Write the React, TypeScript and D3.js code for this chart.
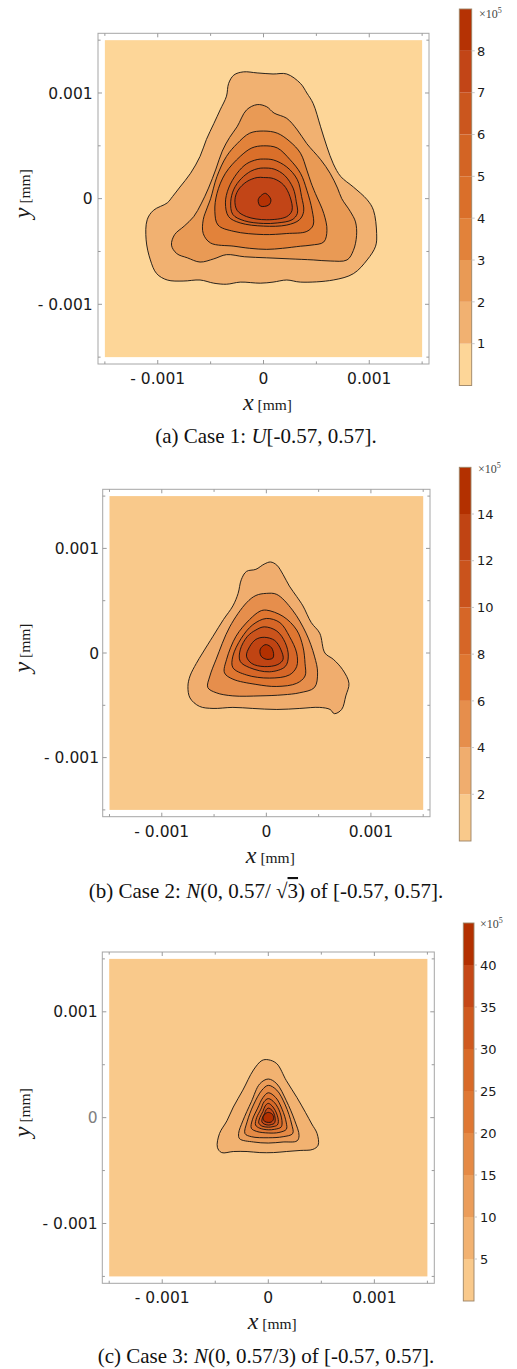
import React from "react";
import * as d3 from "d3";

type Pt = [number, number];

// ---------- shared axis data (units of 0.001 mm) ----------
const axisTicks = [-1, 0, 1];
const axisTickLabels = ["- 0.001", "0", "0.001"];
const minorTicks = [-1.5, -0.5, 0.5, 1.5];
const plotExtent = 1.5;
const frameExtent = 1.565;

// ---------- Case 1 ----------
const case1Levels = [1, 2, 3, 4, 5, 6, 7, 8];
const case1BarMax = 9;
const case1BarLabels = [1, 2, 3, 4, 5, 6, 7, 8];
const case1Contours: Pt[][] = [
  [[-0.06,1.19],[0.09,1.18],[0.22,1.18],[0.35,1.09],[0.41,1.0],[0.47,0.90],[0.54,0.68],[0.60,0.49],[0.66,0.33],[0.73,0.21],[0.85,0.11],[0.98,-0.01],[1.04,-0.11],[1.07,-0.33],[1.06,-0.45],[0.98,-0.58],[0.85,-0.71],[0.66,-0.77],[0.35,-0.79],[0.22,-0.77],[0.09,-0.79],[-0.03,-0.80],[-0.22,-0.79],[-0.35,-0.81],[-0.47,-0.80],[-0.60,-0.77],[-0.76,-0.78],[-0.91,-0.77],[-1.01,-0.71],[-1.07,-0.58],[-1.11,-0.39],[-1.10,-0.20],[-1.04,-0.11],[-0.91,-0.04],[-0.86,0.02],[-0.79,0.11],[-0.69,0.24],[-0.60,0.40],[-0.54,0.56],[-0.47,0.71],[-0.41,0.84],[-0.35,0.97],[-0.33,1.09],[-0.28,1.17],[-0.19,1.20]],
  [[-0.06,0.89],[0.03,0.87],[0.10,0.81],[0.22,0.76],[0.32,0.65],[0.41,0.52],[0.54,0.37],[0.63,0.24],[0.70,0.10],[0.74,0.0],[0.82,-0.12],[0.87,-0.22],[0.88,-0.35],[0.85,-0.49],[0.79,-0.58],[0.63,-0.59],[0.47,-0.58],[0.25,-0.57],[0.03,-0.56],[-0.18,-0.55],[-0.35,-0.53],[-0.47,-0.57],[-0.60,-0.60],[-0.72,-0.56],[-0.82,-0.52],[-0.87,-0.44],[-0.84,-0.34],[-0.75,-0.26],[-0.66,-0.17],[-0.59,-0.05],[-0.52,0.10],[-0.45,0.28],[-0.39,0.45],[-0.32,0.58],[-0.25,0.68],[-0.16,0.84]],
  [[0,0.64],[0.13,0.62],[0.25,0.54],[0.35,0.43],[0.41,0.27],[0.45,0.15],[0.49,0.05],[0.57,-0.14],[0.60,-0.30],[0.57,-0.41],[0.45,-0.44],[0.35,-0.45],[0.18,-0.47],[0.03,-0.48],[-0.13,-0.47],[-0.28,-0.45],[-0.50,-0.42],[-0.57,-0.33],[-0.57,-0.20],[-0.53,-0.08],[-0.50,0.0],[-0.44,0.21],[-0.35,0.40],[-0.25,0.52],[-0.13,0.62]],
  [[0,0.50],[0.13,0.48],[0.25,0.37],[0.35,0.24],[0.41,0.08],[0.46,-0.11],[0.47,-0.25],[0.41,-0.31],[0.22,-0.33],[0,-0.34],[-0.28,-0.31],[-0.43,-0.25],[-0.46,-0.12],[-0.44,0.05],[-0.36,0.24],[-0.22,0.40],[-0.11,0.48]],
  [[0,0.375],[0.095,0.366],[0.22,0.30],[0.32,0.18],[0.36,0.02],[0.38,-0.12],[0.34,-0.20],[0.22,-0.25],[0,-0.26],[-0.22,-0.23],[-0.33,-0.17],[-0.36,-0.04],[-0.33,0.10],[-0.25,0.24],[-0.16,0.33],[-0.06,0.37]],
  [[0,0.29],[0.10,0.28],[0.20,0.22],[0.28,0.10],[0.31,-0.03],[0.32,-0.14],[0.27,-0.20],[0.13,-0.23],[0,-0.235],[-0.18,-0.21],[-0.29,-0.15],[-0.31,-0.03],[-0.28,0.09],[-0.21,0.19],[-0.12,0.26],[-0.05,0.285]],
  [[0,0.20],[0.095,0.19],[0.19,0.13],[0.25,0.02],[0.27,-0.11],[0.22,-0.17],[0.03,-0.20],[-0.16,-0.17],[-0.25,-0.11],[-0.27,-0.01],[-0.24,0.08],[-0.16,0.16],[-0.06,0.20]],
  [[0.02,0.05],[0.07,-0.01],[0.05,-0.06],[-0.03,-0.07],[-0.05,-0.01],[-0.016,0.035]],
];

// ---------- Case 2 ----------
const case2Levels = [2, 4, 6, 8, 10, 12, 14];
const case2BarMax = 16;
const case2BarLabels = [2, 4, 6, 8, 10, 12, 14];
const case2Contours: Pt[][] = [
  [[0.04,0.87],[0.10,0.84],[0.16,0.75],[0.22,0.64],[0.29,0.54],[0.35,0.45],[0.43,0.29],[0.51,0.19],[0.56,0.0],[0.64,-0.06],[0.73,-0.16],[0.79,-0.29],[0.76,-0.41],[0.72,-0.54],[0.65,-0.58],[0.61,-0.54],[0.51,-0.52],[0.32,-0.53],[0.10,-0.54],[-0.13,-0.53],[-0.32,-0.52],[-0.51,-0.53],[-0.64,-0.51],[-0.73,-0.43],[-0.75,-0.32],[-0.73,-0.22],[-0.67,-0.10],[-0.61,0.0],[-0.51,0.16],[-0.41,0.32],[-0.32,0.45],[-0.27,0.57],[-0.24,0.70],[-0.19,0.78],[-0.10,0.80],[-0.02,0.85]],
  [[0,0.57],[0.10,0.56],[0.25,0.41],[0.38,0.19],[0.46,-0.03],[0.49,-0.19],[0.46,-0.33],[0.32,-0.38],[0.16,-0.40],[-0.06,-0.41],[-0.32,-0.41],[-0.48,-0.38],[-0.56,-0.33],[-0.54,-0.22],[-0.48,-0.06],[-0.35,0.25],[-0.19,0.48],[-0.10,0.55]],
  [[0,0.41],[0.16,0.35],[0.29,0.22],[0.35,0.06],[0.37,-0.10],[0.37,-0.22],[0.29,-0.29],[0.10,-0.32],[-0.10,-0.30],[-0.32,-0.25],[-0.40,-0.19],[-0.38,-0.06],[-0.29,0.16],[-0.16,0.32],[-0.06,0.40]],
  [[0,0.33],[0.13,0.29],[0.22,0.16],[0.29,0],[0.29,-0.13],[0.22,-0.21],[0.03,-0.24],[-0.19,-0.21],[-0.32,-0.14],[-0.32,-0.03],[-0.24,0.14],[-0.13,0.27]],
  [[-0.02,0.25],[0.10,0.21],[0.18,0.10],[0.21,-0.03],[0.18,-0.13],[0.03,-0.18],[-0.16,-0.14],[-0.25,-0.08],[-0.25,0.03],[-0.18,0.16],[-0.10,0.22]],
  [[-0.02,0.15],[0.08,0.12],[0.14,0.03],[0.16,-0.06],[0.11,-0.11],[-0.02,-0.13],[-0.14,-0.10],[-0.19,-0.03],[-0.16,0.06],[-0.10,0.13]],
  [[0,0.08],[0.05,0.05],[0.07,-0.02],[0.06,-0.05],[0,-0.06],[-0.05,-0.03],[-0.06,0.03],[-0.03,0.07]],
];

// ---------- Case 3 ----------
const case3Levels = [5, 10, 15, 20, 25, 30, 35, 40];
const case3BarMax = 45;
const case3BarLabels = [5, 10, 15, 20, 25, 30, 35, 40];
const case3Contours: Pt[][] = [
  [[0,0.547],[0.08,0.51],[0.17,0.35],[0.27,0.19],[0.35,0.05],[0.41,-0.06],[0.46,-0.15],[0.47,-0.26],[0.42,-0.30],[0.30,-0.31],[0.17,-0.32],[0.05,-0.33],[-0.08,-0.33],[-0.20,-0.32],[-0.33,-0.32],[-0.44,-0.33],[-0.48,-0.28],[-0.46,-0.15],[-0.39,-0.03],[-0.33,0.10],[-0.24,0.26],[-0.14,0.45],[-0.06,0.54]],
  [[0,0.365],[0.08,0.32],[0.17,0.16],[0.25,-0.03],[0.29,-0.17],[0.27,-0.22],[0.14,-0.23],[0,-0.24],[-0.14,-0.23],[-0.27,-0.20],[-0.28,-0.15],[-0.24,-0.03],[-0.16,0.15],[-0.08,0.32]],
  [[0,0.305],[0.08,0.26],[0.16,0.12],[0.22,-0.06],[0.23,-0.15],[0.14,-0.18],[0,-0.19],[-0.16,-0.18],[-0.22,-0.15],[-0.20,-0.04],[-0.14,0.12],[-0.06,0.26]],
  [[0,0.235],[0.07,0.19],[0.13,0.08],[0.17,-0.05],[0.17,-0.11],[0.10,-0.14],[0,-0.145],[-0.11,-0.13],[-0.16,-0.10],[-0.15,-0.02],[-0.10,0.09],[-0.05,0.19]],
  [[0,0.18],[0.06,0.14],[0.11,0.05],[0.13,-0.05],[0.12,-0.09],[0.06,-0.11],[0,-0.115],[-0.08,-0.10],[-0.12,-0.07],[-0.11,0.0],[-0.07,0.08],[-0.04,0.15]],
  [[0,0.135],[0.045,0.10],[0.08,0.035],[0.095,-0.035],[0.085,-0.07],[0.045,-0.085],[0,-0.09],[-0.06,-0.08],[-0.09,-0.05],[-0.08,0.0],[-0.05,0.06],[-0.03,0.11]],
  [[0,0.09],[0.035,0.07],[0.06,0.02],[0.065,-0.03],[0.055,-0.055],[0.03,-0.065],[0,-0.07],[-0.04,-0.06],[-0.06,-0.04],[-0.055,0.0],[-0.035,0.04],[-0.02,0.075]],
  [[0,0.05],[0.04,0.03],[0.05,-0.01],[0.03,-0.04],[0,-0.045],[-0.035,-0.035],[-0.05,0.0],[-0.03,0.035]],
];

// ---------- styles ----------
const case1Colors = ["#fdd698","#f1b171","#e99a55","#e2823a","#da6f2a","#d36424","#cb561e","#c24517","#b53204"];
const case2Colors = ["#f9c98b","#f0ad6e","#e68e4c","#df7631","#d66627","#ca531c","#c04413","#b33000"];
const case3Colors = ["#f9c98b","#f2b271","#eb9d5a","#e58a45","#df7834","#d86a28","#cf5a20","#c54817","#b33000"];

const SANS = "'DejaVu Sans', Verdana, sans-serif";
const SERIF = "'Liberation Serif', 'Times New Roman', serif";

type Layout = {
  left: number; right: number; top: number; bottom: number;
  xLabelBase: number; yLabelRight: number;
  barL: number; barR: number; barTop: number; barBottom: number; barLabelX: number;
  expX: number; expY: number; captionY: number; zeroGray?: boolean;
};

const layouts: Layout[] = [
  { left: 98, right: 429, top: 33.3, bottom: 364, xLabelBase: 383.5, yLabelRight: 92.7,
    barL: 459.3, barR: 471.7, barTop: 9, barBottom: 385.5, barLabelX: 477, expX: 479, expY: 18, captionY: 443 },
  { left: 102.7, right: 430, top: 489.3, bottom: 816.7, xLabelBase: 836.7, yLabelRight: 99,
    barL: 459.3, barR: 471, barTop: 467.3, barBottom: 841, barLabelX: 477, expX: 478, expY: 473, captionY: 898 },
  { left: 102.3, right: 434.3, top: 952, bottom: 1283.3, xLabelBase: 1303.3, yLabelRight: 97.5,
    barL: 463.3, barR: 474, barTop: 923, barBottom: 1301, barLabelX: 480, expX: 480, expY: 928, captionY: 1363, zeroGray: true },
];

const cases = [
  { levels: case1Levels, barMax: case1BarMax, barLabels: case1BarLabels, contours: case1Contours, colors: case1Colors },
  { levels: case2Levels, barMax: case2BarMax, barLabels: case2BarLabels, contours: case2Contours, colors: case2Colors },
  { levels: case3Levels, barMax: case3BarMax, barLabels: case3BarLabels, contours: case3Contours, colors: case3Colors },
];

function Caption({ idx, cx, y }: { idx: number; cx: number; y: number }) {
  const common = { x: cx, y, textAnchor: "middle" as const, fontFamily: SERIF, fontSize: 21, fill: "#111" };
  if (idx === 0) {
    return (
      <text {...common}>
        (a) Case 1: <tspan fontStyle="italic">U</tspan>[-0.57, 0.57].
      </text>
    );
  }
  if (idx === 1) {
    return (
      <text {...common}>
        (b) Case 2: <tspan fontStyle="italic">N</tspan>(0, 0.57/ √<tspan style={{ textDecoration: "overline" }}>3</tspan>) of [-0.57, 0.57].
      </text>
    );
  }
  return (
    <text {...common}>
      (c) Case 3: <tspan fontStyle="italic">N</tspan>(0, 0.57/3) of [-0.57, 0.57].
    </text>
  );
}

function Panel({ idx }: { idx: number }) {
  const L = layouts[idx];
  const C = cases[idx];
  const x = d3.scaleLinear().domain([-frameExtent, frameExtent]).range([L.left, L.right]);
  const y = d3.scaleLinear().domain([-frameExtent, frameExtent]).range([L.bottom, L.top]);
  const line = d3
    .line<Pt>()
    .x((d) => x(d[0]))
    .y((d) => y(d[1]))
    .curve(d3.curveCatmullRomClosed.alpha(0.5));
  const cb = d3.scaleLinear().domain([0, C.barMax]).range([L.barBottom, L.barTop]);
  const bounds = [0, ...C.levels, C.barMax];
  const cx = (L.left + L.right) / 2;
  const cy = (L.top + L.bottom) / 2;
  const tickCol = "#9a9a9a";
  const majorLen = 4;
  const minorLen = 2.6;

  return (
    <g>
      {/* frame */}
      <rect x={L.left} y={L.top} width={L.right - L.left} height={L.bottom - L.top} fill="#fff" stroke="#a6a6a6" strokeWidth={1} />
      {/* fill area */}
      <rect x={x(-plotExtent)} y={y(plotExtent)} width={x(plotExtent) - x(-plotExtent)} height={y(-plotExtent) - y(plotExtent)} fill={C.colors[0]} />
      {/* contour regions */}
      {C.contours.map((poly, i) => (
        <path key={i} d={line(poly) || ""} fill={C.colors[i + 1]} stroke="#111" strokeWidth={0.9} strokeLinejoin="round" />
      ))}
      {/* ticks on all four sides */}
      {[...axisTicks.map((t) => ({ t, len: majorLen })), ...minorTicks.map((t) => ({ t, len: minorLen }))].map(({ t, len }, i) => (
        <g key={"t" + i} stroke={tickCol} strokeWidth={1}>
          <line x1={x(t)} x2={x(t)} y1={L.bottom} y2={L.bottom - len} />
          <line x1={x(t)} x2={x(t)} y1={L.top} y2={L.top + len} />
          <line x1={L.left} x2={L.left + len} y1={y(t)} y2={y(t)} />
          <line x1={L.right} x2={L.right - len} y1={y(t)} y2={y(t)} />
        </g>
      ))}
      {/* tick labels */}
      {axisTicks.map((t, i) => (
        <text key={"xl" + i} x={x(t)} y={L.xLabelBase} textAnchor="middle" fontFamily={SANS} fontSize={15.5} fill="#1a1a1a">
          {axisTickLabels[i]}
        </text>
      ))}
      {axisTicks.map((t, i) => (
        <text key={"yl" + i} x={L.yLabelRight} y={y(t)} dy="0.36em" textAnchor="end" fontFamily={SANS} fontSize={15.5}
          fill={L.zeroGray && t === 0 ? "#808080" : "#1a1a1a"}>
          {axisTickLabels[i]}
        </text>
      ))}
      {/* axis labels */}
      <text x={cx + 4} y={L.xLabelBase + 26} textAnchor="middle" fontFamily={SERIF} fill="#1a1a1a">
        <tspan fontStyle="italic" fontSize={24}>x</tspan>
        <tspan fontSize={15.5}> [mm]</tspan>
      </text>
      <text transform={`translate(30,${cy - 5}) rotate(-90)`} textAnchor="middle" fontFamily={SERIF} fill="#1a1a1a">
        <tspan fontStyle="italic" fontSize={24}>y</tspan>
        <tspan fontSize={15.5}> [mm]</tspan>
      </text>
      {/* colorbar */}
      {bounds.slice(0, -1).map((b, i) => (
        <rect key={"cb" + i} x={L.barL} y={cb(bounds[i + 1])} width={L.barR - L.barL} height={cb(b) - cb(bounds[i + 1])} fill={C.colors[i]} />
      ))}
      <rect x={L.barL} y={L.barTop} width={L.barR - L.barL} height={L.barBottom - L.barTop} fill="none" stroke="#9c8466" strokeWidth={0.9} />
      {C.barLabels.map((v, i) => (
        <g key={"bl" + i}>
          <line x1={L.barR} x2={L.barR + 3} y1={cb(v)} y2={cb(v)} stroke="#c8c8c8" strokeWidth={1} />
          <text x={L.barLabelX} y={cb(v)} dy="0.36em" fontFamily={SANS} fontSize={13} fill="#1a1a1a">{v}</text>
        </g>
      ))}
      <text x={L.expX} y={L.expY} fontFamily={SERIF} fontSize={12} fill="#444">
        ×10<tspan fontSize={8} dy={-5}>5</tspan>
      </text>
      <Caption idx={idx} cx={266} y={L.captionY} />
    </g>
  );
}

export default function App() {
  return (
    <svg width={517} height={1369} viewBox="0 0 517 1369" style={{ position: "absolute", left: 0, top: 0, background: "#fff" }}>
      <rect x={0} y={0} width={517} height={1369} fill="#fff" />
      {[0, 1, 2].map((i) => (
        <Panel key={i} idx={i} />
      ))}
    </svg>
  );
}
